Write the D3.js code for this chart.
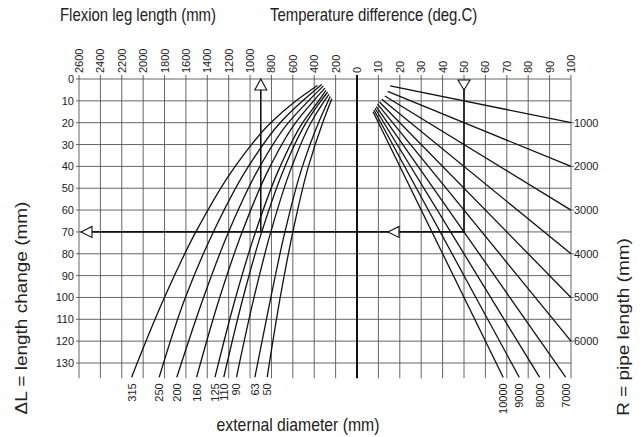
<!DOCTYPE html>
<html>
<head>
<meta charset="utf-8">
<script src="https://cdn.jsdelivr.net/npm/d3@7"></script>
<style>
  body { margin: 0; background: #fff; }
  svg { font-family: "Liberation Sans", Arial, sans-serif; }
</style>
</head>
<body>
<script>
// Axis ticks
var legTicks = [2600, 2400, 2200, 2000, 1800, 1600, 1400, 1200, 1000, 800, 600, 400, 200, 0];
var tempTicks = [10, 20, 30, 40, 50, 60, 70, 80, 90, 100];
var changeTicks = [0, 10, 20, 30, 40, 50, 60, 70, 80, 90, 100, 110, 120, 130];

// Left curves: [flexion leg length (mm), length change (mm)] per external diameter
var diameters = [315, 250, 200, 160, 125, 110, 90, 63, 50];
var flex315 = [[370, 3.0], [570, 10], [806, 20], [1139, 40], [1507, 70], [1801, 100], [2108, 136.5]];
var flex250 = [[330, 2.5], [508, 10], [718, 20], [1015, 40], [1343, 70], [1605, 100], [1850, 136.5]];
var flex200 = [[315, 3.2], [454, 10], [642, 20], [908, 40], [1201, 70], [1435, 100], [1685, 136.5]];
var flex160 = [[300, 4.2], [406, 10], [574, 20], [812, 40], [1074, 70], [1284, 100], [1500, 136.5]];
var flex125 = [[290, 5.2], [359, 10], [508, 20], [718, 40], [949, 70], [1135, 100], [1328, 136.5]];
var flex110 = [[275, 6.0], [337, 10], [476, 20], [673, 40], [891, 70], [1065, 100], [1246, 136.5]];
var flex90 = [[262, 7.0], [305, 10], [431, 20], [609, 40], [806, 70], [963, 100], [1127, 136.5]];
var flex63 = [[250, 8.0], [360, 20], [510, 40], [674, 70], [806, 100], [955, 136.5]];
var flex50 = [[235, 9.0], [321, 20], [454, 40], [600, 70], [718, 100], [840, 136.5]];
var flexCurves = [flex315, flex250, flex200, flex160, flex125, flex110, flex90, flex63, flex50];

// Right lines: [temperature difference, length change] per pipe length
var pipeLengths = [1000, 2000, 3000, 4000, 5000, 6000, 7000, 8000, 9000, 10000];
var lineStarts = [[15.5, 3.1], [14.3, 5.7], [13, 7.8], [11.6, 9.3], [10.5, 10.5], [9.6, 11.5], [9, 12.6], [8.4, 13.4], [7.9, 14.2], [7.5, 15]];
var lineEnds = [[100, 20], [100, 40], [100, 60], [100, 80], [100, 100], [100, 120], [97.5, 136.5], [85.3, 136.5], [75.8, 136.5], [68.3, 136.5]];

// Worked example
var exampleLeg = 900, exampleTemp = 50, exampleChange = 70;

var width = 644, height = 437;
var squeeze = 0.83; // the scan is narrower than it is tall

var svg = d3.select("body").append("svg")
  .attr("width", width)
  .attr("height", height);

var legScale = d3.scaleLinear().domain([2600, 0]).range([79, 357]);
var tempScale = d3.scaleLinear().domain([0, 100]).range([357, 571]);
var changeScale = d3.scaleLinear().domain([0, 130]).range([79, 363]);
var yBottom = changeScale(137);

var grid = svg.append("g").attr("stroke", "#555").attr("stroke-width", 0.9);

// vertical grid lines
grid.selectAll("line.vl")
  .data(legTicks.filter(function(d) { return d > 0; }))
  .enter().append("line")
  .attr("x1", function(d) { return legScale(d); })
  .attr("x2", function(d) { return legScale(d); })
  .attr("y1", 75).attr("y2", yBottom);

grid.selectAll("line.vr")
  .data(tempTicks)
  .enter().append("line")
  .attr("x1", function(d) { return tempScale(d); })
  .attr("x2", function(d) { return tempScale(d); })
  .attr("y1", 75).attr("y2", yBottom);

// horizontal grid lines
grid.selectAll("line.h")
  .data(changeTicks)
  .enter().append("line")
  .attr("x1", 76).attr("x2", 571)
  .attr("y1", function(d) { return changeScale(d); })
  .attr("y2", function(d) { return changeScale(d); });

// right side ticks
grid.selectAll("line.rt")
  .data(lineEnds.filter(function(d) { return d[0] === 100; }))
  .enter().append("line")
  .attr("x1", 571).attr("x2", 574)
  .attr("y1", function(d) { return changeScale(d[1]); })
  .attr("y2", function(d) { return changeScale(d[1]); });

// zero line
svg.append("line")
  .attr("x1", legScale(0)).attr("x2", legScale(0))
  .attr("y1", 75).attr("y2", yBottom)
  .attr("stroke", "#111").attr("stroke-width", 2);

// top tick labels
svg.selectAll("text.top")
  .data(legTicks.map(function(d) { return {v: d, x: legScale(d)}; })
    .concat(tempTicks.map(function(d) { return {v: d, x: tempScale(d)}; })))
  .enter().append("text")
  .attr("transform", function(d) { return "translate(" + (d.x + 4) + ",73) rotate(-90)"; })
  .attr("font-size", 11)
  .attr("fill", "#222")
  .text(function(d) { return d.v; });

// left tick labels
svg.selectAll("text.left")
  .data(changeTicks)
  .enter().append("text")
  .attr("x", 74)
  .attr("y", function(d) { return changeScale(d) + 4; })
  .attr("text-anchor", "end")
  .attr("font-size", 11)
  .attr("fill", "#222")
  .text(function(d) { return d; });

var line = d3.line()
  .x(function(d) { return legScale(d[0]); })
  .y(function(d) { return changeScale(d[1]); })
  .curve(d3.curveMonotoneY);

svg.selectAll("path.flex")
  .data(flexCurves)
  .enter().append("path")
  .attr("d", line)
  .attr("fill", "none")
  .attr("stroke", "#111")
  .attr("stroke-width", 1.3);

svg.selectAll("text.dia")
  .data(diameters)
  .enter().append("text")
  .attr("transform", function(d, i) {
    var last = flexCurves[i][flexCurves[i].length - 1];
    return "translate(" + (legScale(last[0]) + 4) + "," + (yBottom + 5) + ") rotate(-90)";
  })
  .attr("text-anchor", "end")
  .attr("font-size", 11)
  .attr("fill", "#222")
  .text(function(d) { return d; });

// pipe length lines
svg.selectAll("line.pipe")
  .data(pipeLengths)
  .enter().append("line")
  .attr("x1", function(d, i) { return tempScale(lineStarts[i][0]); })
  .attr("y1", function(d, i) { return changeScale(lineStarts[i][1]); })
  .attr("x2", function(d, i) { return tempScale(lineEnds[i][0]); })
  .attr("y2", function(d, i) { return changeScale(lineEnds[i][1]); })
  .attr("stroke", "#111")
  .attr("stroke-width", 1.3);

svg.selectAll("text.pipe")
  .data(pipeLengths)
  .enter().append("text")
  .each(function(d, i) {
    var e = lineEnds[i];
    var t = d3.select(this).attr("font-size", 11).attr("fill", "#222").text(d);
    if (e[0] === 100) {
      t.attr("x", tempScale(100) + 3).attr("y", changeScale(e[1]) + 4);
    } else {
      t.attr("transform", "translate(" + (tempScale(e[0]) + 4) + "," + (yBottom + 5) + ") rotate(-90)")
        .attr("text-anchor", "end");
    }
  });

// worked example arrows
var ex = svg.append("g").attr("stroke", "#111").attr("stroke-width", 1.6).attr("fill", "#fff");
var exY = changeScale(exampleChange);
var exX1 = legScale(exampleLeg), exX2 = tempScale(exampleTemp);

ex.append("line").attr("x1", exX1).attr("x2", exX1).attr("y1", exY).attr("y2", 89);
ex.append("line").attr("x1", exX2).attr("x2", exX2).attr("y1", exY).attr("y2", 82);
ex.append("line").attr("x1", exX2).attr("x2", 81).attr("y1", exY).attr("y2", exY);

ex.append("path").attr("stroke-width", 1.1)
  .attr("d", "M" + exX1 + ",79 L" + (exX1 + 6) + ",90 L" + (exX1 - 6) + ",90 Z");
ex.append("path").attr("stroke-width", 1.1)
  .attr("d", "M" + exX2 + ",90 L" + (exX2 + 6) + ",80 L" + (exX2 - 6) + ",80 Z");
ex.append("path").attr("stroke-width", 1.1)
  .attr("d", "M81," + exY + " L92," + (exY - 5.5) + " L92," + (exY + 5.5) + " Z");
ex.append("path").attr("stroke-width", 1.1)
  .attr("d", "M388," + exY + " L399," + (exY - 5.5) + " L399," + (exY + 5.5) + " Z");

// titles (horizontally squeezed like the source scan)
function title(x, y, size, anchor, rotated, label) {
  svg.append("text")
    .attr("transform", "translate(" + x + "," + y + ") scale(" + squeeze + ",1)" + (rotated ? " rotate(-90)" : ""))
    .attr("text-anchor", anchor)
    .attr("font-size", size)
    .attr("fill", "#222")
    .text(label);
}
title(60, 21, 18, "start", false, "Flexion leg length (mm)");
title(270, 21, 18, "start", false, "Temperature difference (deg.C)");
title(298, 431, 19, "middle", false, "external diameter (mm)");
title(27, 308, 19, "middle", true, "\u0394L = length change (mm)");
title(628.5, 327, 19, "middle", true, "R = pipe length (mm)");
</script>
</body>
</html>
